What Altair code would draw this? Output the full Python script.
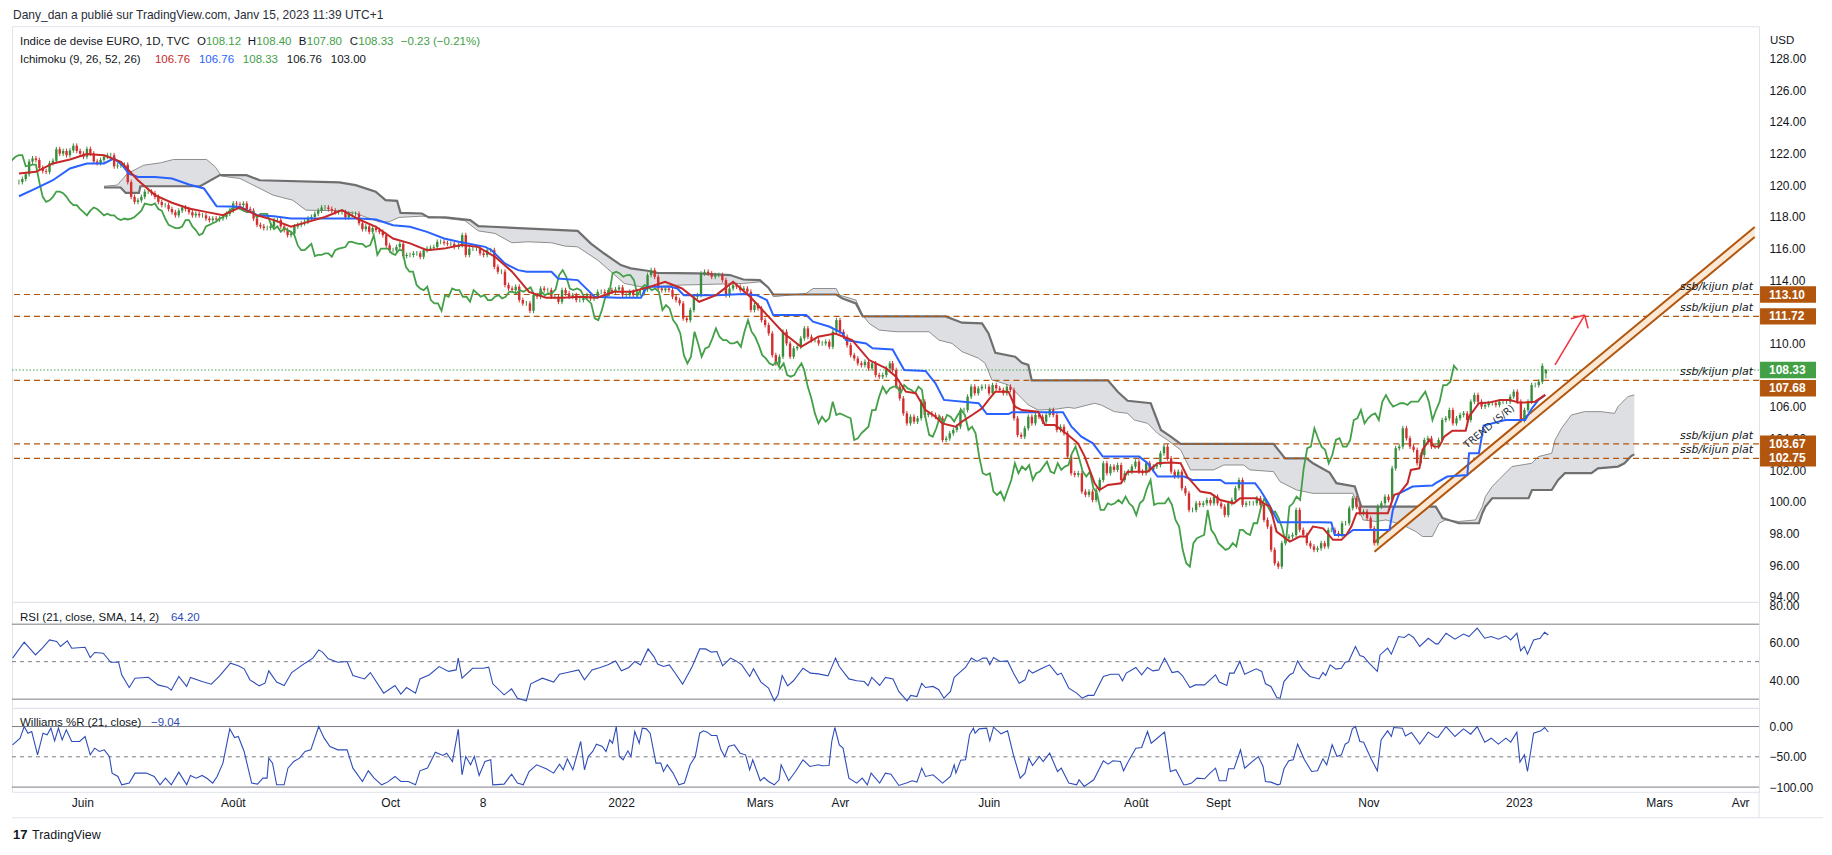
import altair as alt
import numpy as np
import pandas as pd

# ---------------- values ----------------
# daily closes, four stretches of the chart (bar 0 = 1 June 2021)
close_a = [120.2, 120.4, 120.7, 121.5, 121.7, 121.6, 121.1, 120.9, 120.85, 121.4,
           121.55, 122.28, 122.0, 122.17, 121.9, 122.2, 122.5, 122.17, 122.0, 121.8,
           122.3, 122.0, 121.5, 121.4, 121.6, 121.8, 121.9, 121.9, 121.2, 121.25,
           121.3, 121.3, 120.2, 119.27, 118.95, 119.05, 119.27, 119.6, 119.6, 119.5,
           119.27, 118.95, 118.75, 118.75, 118.5, 118.3, 118.1, 118.4, 118.6, 118.5,
           118.3, 118.1, 118.2, 118.1, 118.1, 117.9, 117.8, 117.9, 117.84, 117.9,
           118.0, 118.2, 118.4, 118.85, 118.8, 118.75, 118.85, 118.5, 118.4, 117.9,
           117.5, 117.4, 117.3, 117.3, 117.4, 117.8, 117.8, 117.4, 117.17, 116.85,
           116.95, 117.4, 117.5, 117.6, 117.7, 117.9, 118.0, 118.2, 118.4, 118.6,
           118.6, 118.5, 118.4, 118.3, 118.3, 118.3, 117.97, 118.2, 118.2, 118.2,
           117.6, 117.23, 117.4, 117.06, 117.3, 117.17, 117.06, 116.85, 116.2, 115.9,
           115.9, 116.1, 116.3, 115.53, 115.6, 115.6, 115.7, 115.7, 115.48, 115.9,
           116.0, 116.05, 116.1, 116.43, 116.43, 116.35, 116.3, 116.3, 116.1]
close_b = [116.22, 116.85, 115.6, 116.0, 116.0, 116.0, 115.7, 115.6, 115.9, 115.9,
           114.85, 114.54, 114.54, 113.7, 113.48, 113.38, 113.59, 112.75, 112.54, 112.54,
           112.07, 113.06, 112.96, 113.48, 113.38, 113.38, 112.96, 112.96, 112.64, 113.38,
           113.17, 112.96, 113.06, 112.75, 112.75, 112.96, 113.06, 112.85, 112.96, 113.27,
           113.27, 113.17, 113.38, 113.27, 113.42, 113.55, 113.06, 113.06, 113.27, 113.06,
           113.17, 113.17, 113.42, 114.33, 114.64, 114.22, 113.48, 113.38, 113.48, 113.38,
           112.96, 112.75, 112.54, 111.59, 111.48, 112.12, 112.96, 113.06, 114.43, 114.54,
           114.43, 114.22, 114.33, 114.33, 114.01, 113.06, 113.48, 113.69, 113.59, 113.38,
           113.48, 113.27, 112.12, 112.43, 112.22, 111.48, 111.17, 110.64, 109.27, 108.75,
           109.17, 110.75, 110.01, 109.17, 109.7, 109.8, 110.33, 110.96, 110.43, 110.22,
           110.22, 110.01, 110.01, 110.12, 109.8, 110.75, 111.48, 110.75, 110.43, 109.9,
           109.27, 109.06, 108.75, 108.64, 108.85, 108.43, 108.75, 108.01, 107.91, 108.01,
           108.43, 108.75]
close_c = [108.33, 107.28, 106.54, 105.59, 104.96, 105.38, 105.07, 105.28, 106.33, 105.49,
           105.59, 105.49, 105.38, 105.28, 103.91, 104.01, 104.33, 104.54, 104.75, 105.8,
           105.8, 106.65, 107.28, 106.86, 107.17, 107.28, 107.28, 106.86, 107.38, 107.17,
           107.07, 106.86, 107.28, 107.07, 105.28, 104.23, 104.12, 104.65, 105.38, 104.96,
           105.49, 105.38, 105.07, 105.49, 105.8, 105.49, 104.54, 104.75, 104.33, 102.86,
           101.81, 101.7, 101.81, 100.65, 100.44, 100.65, 100.12, 100.75, 101.38, 102.44,
           101.81, 102.23, 102.02, 102.33, 101.38, 101.81, 101.91, 102.23, 102.54, 101.91,
           101.81, 102.44, 102.02, 102.23, 102.33, 103.07, 103.49, 102.75, 101.91, 101.6,
           101.91, 100.86, 100.54, 99.49, 99.49, 99.91, 99.81, 99.91, 100.12, 99.91,
           100.33, 99.91, 99.7, 99.17, 99.91, 100.12, 100.86, 101.38, 99.81, 99.91,
           99.91, 99.91, 100.23, 99.81, 98.86, 98.44, 96.97, 96.12, 95.91, 97.39,
           97.7, 97.81, 97.91, 99.49, 98.23, 97.91, 97.39, 97.18, 96.97, 97.07,
           97.39, 97.18, 98.23]
close_d = [98.23, 98.02, 97.91, 98.65, 98.65, 99.6, 100.23, 99.7, 99.28, 99.39,
           98.97, 98.33, 97.39, 99.7, 99.91, 100.33, 100.12, 102.12, 103.39, 103.49,
           104.65, 104.02, 103.49, 103.28, 102.44, 102.96, 103.91, 104.02, 103.49, 103.49,
           103.91, 105.17, 105.28, 105.8, 104.96, 105.28, 105.49, 105.59, 105.17, 106.33,
           106.75, 106.33, 106.02, 106.12, 106.23, 106.23, 106.12, 106.33, 106.33, 106.33,
           106.65, 106.96, 106.33, 105.17, 105.8, 106.33, 107.38, 107.38, 107.59, 108.6,
           108.33]
stretch_first_bar = [-20, 109.3, 236.9, 365.9]
stretch_last_bar = [108, 236.1, 365.0, 429]
last_candle = {"O": 108.12, "H": 108.40, "B": 107.80, "C": 108.33, "chg": -0.23, "pct": -0.21}

tenkan_bar = [-20, -15, -10, -5, 0, 5, 10, 15, 20, 25, 30, 35, 40, 45, 50, 55, 60, 65, 70, 75, 80, 85, 90, 95, 100, 105,
              110, 115, 120, 125, 130, 135, 140, 145, 150, 155, 160, 165, 170, 175, 180, 185, 190, 195, 200, 205, 210, 215,
              220, 225, 230, 235,
              237.9, 240.8, 243.7, 246.6, 249.5, 251.5, 255.4, 257.3, 260.3, 263.2, 265.1, 267.1, 271.0, 272.9, 274.9,
              279.7, 281.7, 284.6, 288.5, 291.4, 293.4, 296.3, 297.7, 300.2, 304.1, 306.0, 311.9, 314.8, 318.7, 321.6,
              323.5, 327.4, 330.4, 333.3, 337.2, 339.1, 344.0, 346.0, 347.9, 349.8, 353.7, 356.6, 358.6, 360.5, 363.5,
              366.4, 368.9, 370.3, 371.8, 373.3, 377.1, 382.5, 384.4, 385.9, 388.3, 389.3, 391.8, 392.7, 394.7, 396.1,
              397.6, 399.1, 401.5, 405.4, 406.4, 409.3, 412.2, 415.6, 418.5, 421.0, 422.4, 425.8, 428.8]
tenkan_val = [120.74, 120.85, 121.38, 121.63, 121.97, 121.9, 121.48, 120.32, 119.38, 118.9, 118.53, 118.32, 118.11,
              118.6, 118.11, 117.8, 117.38, 117.69, 118.0, 118.43, 117.84, 117.38, 116.64, 116.33, 115.9, 116.0,
              116.22, 116.11, 115.48, 114.54, 113.27, 112.9, 112.9, 112.96, 112.9, 113.27, 113.27, 113.55, 113.9,
              113.48, 112.64, 113.06, 113.9, 112.96, 111.8, 110.64, 109.8, 110.43, 110.64, 110.22, 108.96, 108.43,
              107.91, 106.96, 106.86, 105.8, 105.38, 104.96, 104.75, 105.07, 105.49, 105.91, 106.44, 106.96, 106.96,
              106.01, 105.8, 105.7, 104.86, 104.86, 104.23, 103.7, 102.86, 101.17, 100.75, 101.07, 101.17, 101.91,
              101.91, 102.44, 102.48, 102.44, 101.6, 100.65, 100.54, 100.12, 99.91, 100.23, 100.23, 99.91, 99.7,
              98.12, 97.49, 97.81, 97.81, 98.44, 98.33,
              97.6, 97.6, 97.91, 98.44, 99.28, 99.28, 99.28, 100.44, 100.54, 101.18, 102.02, 102.12, 103.28, 103.91,
              103.49, 103.49, 104.12, 104.5, 104.5, 105.38, 106.23, 106.27, 106.44, 106.44, 106.27, 106.27, 106.33,
              106.76]

kijun_bar = [-20, -15, -10, -5, 0, 5, 7.9, 10.4, 12.3, 15, 20, 25, 30, 34.4, 38.1, 45, 50, 55, 60, 80, 85, 90, 95,
             100, 105,
             109.3, 117.1, 119.0, 122.9, 126.8, 129.3, 136.6, 138.5, 144.3, 147.3, 149.2, 156.0, 162.9, 163.8, 164.8,
             171.6, 173.6, 175.5, 185.2, 193.0, 196.9, 199.9, 201.8, 211.5, 213.5, 218.4, 222.2, 223.2, 229.1, 231.0,
             236.9,
             240.3, 246.6, 249.5, 252.0, 262.2, 264.6, 271.0, 272.0, 287.0, 289.5, 292.4, 295.8, 298.7, 309.4, 311.9,
             314.8, 315.8, 322.6, 325.0, 333.3, 334.7, 343.5, 345.0, 347.4, 350.3, 362.5,
             365.9, 366.9, 370.3, 372.3, 383.0, 384.0, 385.9, 389.8, 395.6, 396.6, 400.0, 405.9, 406.4, 409.3, 410.7,
             417.1, 422.9, 424.9, 426.8, 428.8]
kijun_val = [119.31, 119.8, 120.32, 121.06, 121.38, 121.38, 121.69, 121.27, 120.74, 120.53, 120.53, 120.43, 120.05,
             119.8, 118.68, 118.64, 118.11, 118.05, 117.9, 117.9, 117.84, 117.48, 117.38, 117.06, 116.64,
             116.43, 116.11, 115.9, 115.06, 114.64, 114.54, 114.54, 114.11, 114.01, 113.38, 112.96, 112.9, 112.9,
             113.27, 113.59, 113.59, 113.48, 113.06, 113.06, 113.13, 113.06, 112.75, 111.8, 111.8, 111.38, 111.06,
             110.64, 110.22, 110.01, 109.7, 109.63,
             108.33, 108.27, 107.49, 106.44, 106.23, 105.55, 105.55, 105.66, 105.66, 104.75, 104.12, 103.7, 102.86,
             102.86, 102.44, 101.6, 101.6, 101.6, 101.38, 101.38, 101.17, 101.17, 100.75, 99.91, 98.71, 98.71,
             98.69, 97.91, 97.91, 98.23, 98.23, 99.49, 100.54, 100.97, 101.03, 101.18, 101.6, 101.7, 103.07, 103.07,
             104.82, 105.17, 105.17, 105.91, 106.44, 106.76]

spana_bar = [5.0, 8.9, 11.9, 16.7, 21.6, 25.5, 35.2, 37.7, 39.6, 45.0, 48.9, 54.7, 60.5, 64.4, 74.2, 79.0, 85.9, 88.8,
             91.7, 98.5, 103.4,
             111.2, 115.1, 120.0, 124.9, 129.7, 136.6, 140.5, 144.3, 150.2, 154.1, 158.0, 163.8, 173.6, 193.0, 197.9,
             200.3, 201.8, 211.5, 213.5, 220.3, 221.3, 226.1, 228.1, 230.0, 233.0,
             237.9, 247.6, 250.5, 254.4, 257.3, 262.2, 264.1, 266.1, 268.0, 271.0, 274.9, 276.8, 279.7, 284.6, 288.5,
             290.4, 296.3, 298.2, 302.1, 306.0, 308.0, 311.9, 314.8, 317.7, 321.6, 324.5, 331.3, 334.3, 340.1, 342.0,
             348.9, 350.8, 355.7, 360.5, 365.4,
             372.3, 373.3, 375.2, 379.1, 382.0, 386.9, 390.8, 392.7, 395.6, 397.6, 399.5, 403.4, 408.3, 410.3, 411.2,
             413.2, 415.1, 419.0, 424.9, 426.8, 430.7, 431.7, 433.6, 436.5, 440.4, 445.3, 449.2, 450.2, 453.1, 455.0]
spana_val = [119.94, 120.01, 120.74, 121.27, 121.42, 121.63, 121.63, 121.17, 120.58, 120.43, 120.01, 119.38, 119.06,
             118.43, 118.39, 118.22, 117.69, 117.69, 117.97, 118.05, 117.97,
             117.76, 117.12, 116.96, 116.37, 116.43, 116.37, 116.16, 116.11, 115.27, 114.54, 113.8, 113.55, 113.69,
             113.8, 113.9, 113.55, 112.96, 113.17, 113.48, 113.48, 113.06, 112.75, 111.8, 111.27, 110.85,
             110.75, 110.75, 110.22, 110.01, 109.49, 109.07, 108.75, 107.7, 107.59, 107.38, 106.54, 106.12, 105.8,
             105.85, 105.97, 105.91, 106.23, 106.12, 105.7, 105.59, 105.17, 104.96, 104.33, 103.91, 103.28, 102.02,
             102.02, 102.33, 102.33, 102.02, 101.91, 101.28, 100.75, 100.54, 100.54,
             100.54, 99.91, 98.86, 98.76, 98.86, 98.54, 98.12, 97.81, 97.81, 98.65, 98.86, 98.76, 98.86, 99.7, 100.33,
             100.97, 101.39, 102.23, 102.44, 102.86, 103.07, 103.91, 104.65, 105.49, 105.7, 105.7, 105.59, 106.02,
             106.65, 106.76]

spanb_bar = [5.0, 9.9, 11.4, 15.3, 15.7, 33.3, 39.1, 46.9, 50.8, 74.2, 79.0, 84.9, 87.8, 91.2, 92.2, 98.5, 100.5, 105.4,
             112.7, 115.1, 119.0, 144.3, 148.2, 152.1, 157.0, 159.9, 164.8, 167.7, 179.4, 189.1, 193.0, 197.9, 200.3,
             201.8, 220.3, 222.2, 226.1, 228.1,
             252.5, 257.3, 263.2, 265.1, 267.1, 272.9, 274.9, 276.8, 277.8, 300.2, 303.1, 306.0, 312.8, 315.8, 318.7,
             321.6, 348.9, 352.3, 358.6, 360.5, 365.4,
             367.4, 372.8, 374.7, 396.6, 398.6, 403.4, 409.3, 410.3, 411.2, 413.2, 423.9, 424.9, 430.7, 432.6, 434.6,
             442.4, 444.3, 450.2, 452.1, 454.1, 455.0]
spanb_val = [119.86, 119.86, 119.52, 119.52, 119.94, 119.94, 120.64, 120.64, 120.32, 120.18, 120.01, 119.59, 119.06,
             119.02, 118.26, 118.22, 117.97, 117.97,
             117.8, 117.42, 117.38, 117.12, 116.32, 115.69, 114.96, 114.75, 114.6, 114.47, 114.43, 114.33, 114.05,
             114.01, 113.55, 113.1, 113.1, 112.85, 112.54, 111.72,
             111.72, 111.32, 111.28, 110.64, 109.42, 109.17, 108.79, 108.65, 107.68, 107.68, 106.96, 106.39, 106.23,
             104.54, 104.12, 103.67, 103.67, 102.75, 102.75, 102.44, 101.85,
             101.18, 100.97, 99.7, 99.7, 98.97, 98.65, 98.65, 99.28, 99.7, 100.23, 100.23, 100.75, 100.75, 101.39,
             101.81, 101.81, 102.12, 102.23, 102.44, 102.9, 103.0]

rsi_pts = [(-20.4, 51.9), (-17.0, 60.4), (-13.7, 53.6), (-11.5, 57.6), (-9.6, 61.6), (-7.5, 60.75), (-6.4, 58.1),
           (-4.4, 61.1), (-3.1, 57.2), (0.8, 57.7), (2.3, 52.2), (3.6, 54.9), (6.1, 54.5), (8.3, 49.7), (10.6, 49.7),
           (11.5, 43.0), (13.7, 36.2), (15.4, 41.2), (19.3, 41.7), (22.1, 37.6), (24.9, 36.4), (26.0, 34.8),
           (28.2, 42.1), (30.5, 36.8), (31.6, 41.6), (35.0, 39.4), (37.7, 38.0), (40.0, 42.1), (43.3, 49.2),
           (45.6, 47.8), (47.3, 46.2), (49.0, 40.3), (51.7, 37.1), (53.4, 38.5), (54.5, 45.1), (56.8, 39.1),
           (59.0, 37.3), (61.2, 44.2), (65.1, 49.2), (67.4, 51.9), (69.1, 56.3), (70.2, 55.1), (71.9, 51.5),
           (74.7, 49.7), (77.4, 50.1), (79.1, 42.6), (82.5, 40.8), (84.2, 44.2), (88.1, 33.2), (91.4, 37.3),
           (93.1, 32.7), (94.8, 36.2), (97.4, 33.2), (98.7, 40.8), (101.5, 43.0), (104.3, 47.4), (107.1, 44.8),
           (109.3, 45.6), (109.9, 51.9), (111.0, 41.2), (114.1, 46.5), (117.2, 46.5), (118.8, 47.1), (120.0, 38.2),
           (123.3, 32.3), (125.5, 35.5), (127.2, 30.5), (129.8, 29.1), (131.1, 38.2), (134.5, 41.2), (137.8, 39.1),
           (139.5, 43.3), (141.8, 44.2), (145.1, 45.6), (146.8, 40.3), (149.0, 45.6), (151.4, 46.9), (153.7, 48.3),
           (155.9, 50.4), (157.6, 45.1), (159.8, 46.9), (161.5, 50.1), (163.2, 48.3), (165.4, 56.8), (167.1, 52.7),
           (168.2, 48.7), (169.9, 47.4), (171.6, 48.3), (173.2, 44.2), (175.5, 38.0), (178.3, 47.4), (180.5, 56.8),
           (182.2, 56.8), (183.9, 55.1), (185.5, 55.4), (187.2, 47.8), (189.5, 51.9), (191.1, 50.4), (192.8, 48.3),
           (195.1, 42.1), (196.2, 46.2), (198.4, 39.1), (200.6, 35.9), (202.3, 29.1), (203.4, 32.3), (204.6, 42.6),
           (206.2, 37.1), (207.9, 39.8), (210.7, 46.5), (212.9, 43.9), (215.2, 43.5), (218.0, 42.4), (220.2, 51.9),
           (221.3, 47.4), (224.1, 40.8), (226.4, 39.8), (228.6, 39.4), (229.7, 37.1), (230.8, 41.6), (233.1, 37.3),
           (234.8, 41.6), (237.0, 40.8), (238.7, 34.1), (241.1, 29.1), (242.2, 32.0), (244.0, 31.4), (245.4, 38.5),
           (246.5, 36.2), (248.7, 36.8), (250.4, 35.0), (251.9, 30.5), (253.8, 34.1), (254.9, 41.6), (256.6, 44.4),
           (258.2, 46.9), (259.9, 51.9), (261.6, 50.1), (263.3, 51.9), (264.4, 51.9), (265.3, 48.3), (266.4, 52.2),
           (268.3, 50.1), (270.5, 50.4), (272.2, 43.9), (273.9, 38.5), (275.6, 40.3), (276.7, 45.6), (277.8, 43.9),
           (280.6, 46.5), (282.8, 48.3), (285.1, 43.0), (286.2, 43.9), (288.4, 35.9), (290.7, 33.2), (292.3, 30.5),
           (294.0, 32.0), (295.7, 32.0), (298.5, 42.1), (300.7, 43.3), (303.0, 43.3), (304.1, 39.8), (305.2, 43.9),
           (308.0, 46.9), (309.7, 43.0), (311.4, 46.9), (313.0, 45.1), (314.7, 45.6), (316.4, 51.9), (318.6, 44.2),
           (320.3, 44.8), (321.6, 42.6), (323.8, 36.2), (325.4, 37.6), (328.1, 37.6), (329.7, 40.3), (331.3, 43.0),
           (332.4, 39.1), (334.6, 37.3), (335.4, 43.9), (336.7, 43.9), (338.4, 50.1), (339.8, 43.3), (343.2, 46.2),
           (344.8, 44.8), (345.9, 38.2), (347.5, 36.8), (349.2, 30.9), (350.2, 30.5), (351.3, 39.4), (353.0, 43.0),
           (354.0, 43.9), (355.3, 50.4), (356.7, 46.2), (358.9, 42.1), (361.6, 40.8), (362.7, 44.2), (363.5, 42.6),
           (364.8, 48.3), (366.5, 46.0), (368.1, 46.5), (369.2, 49.7), (370.2, 50.1), (372.2, 58.1), (373.5, 53.3),
           (374.6, 52.7), (376.2, 49.2), (378.6, 44.8), (379.4, 53.6), (381.6, 57.2), (382.7, 54.0), (384.8, 63.4),
           (386.5, 62.9), (387.8, 64.7), (389.2, 62.9), (391.0, 58.1), (393.5, 62.5), (395.7, 59.5), (396.4, 59.5),
           (398.7, 65.2), (401.3, 62.0), (403.8, 64.7), (405.4, 63.4), (407.8, 67.9), (410.0, 62.5), (411.9, 63.4),
           (414.0, 62.0), (416.2, 63.8), (417.6, 61.6), (419.4, 65.2), (420.5, 55.8), (421.6, 58.1), (422.5, 54.0),
           (424.3, 61.6), (426.2, 62.5), (427.5, 65.7), (428.6, 64.2)]

wr_pts = [(-20.4, -30.2), (-18.2, -19.2), (-17.0, 0), (-15.9, -11), (-14.8, -8.2), (-13.1, -46.7), (-11.5, -11),
          (-10.3, -13.7), (-9.2, -2.7), (-8.1, -23.6), (-7.0, -2.7), (-5.9, -22), (-4.7, -5.5), (-3.1, -24.7),
          (-0.8, -24.7), (0.8, -16.5), (2.3, -46.7), (3.6, -35.7), (5.0, -41.2), (6.4, -38.5), (7.9, -49.5),
          (8.7, -76.9), (10.4, -82.4), (11.5, -96.2), (13.7, -93.4), (15.4, -76.9), (18.7, -76.9), (21.0, -82.4),
          (22.7, -96.2), (24.3, -85.2), (26.0, -96.2), (28.2, -75.3), (30.5, -96.2), (31.6, -80.8), (33.3, -85.2),
          (35.0, -80.8), (36.6, -86.3), (38.1, -93.4), (39.4, -82.4), (41.1, -60.4), (43.1, -3.8), (44.5, -18.1),
          (45.6, -16.5), (47.3, -41.2), (49.5, -93.4), (51.2, -95.1), (52.8, -85.2), (54.0, -85.2), (54.5, -52.2),
          (55.6, -60.4), (56.8, -96.2), (59.0, -96.2), (60.1, -68.7), (61.8, -57.7), (63.5, -52.2), (65.1, -41.2),
          (66.8, -38.5), (69.1, 0), (70.7, -19.2), (72.4, -33), (74.7, -38.5), (77.4, -38.5), (79.1, -68.7),
          (81.9, -90.7), (83.6, -73.1), (85.3, -85.2), (87.5, -96.2), (89.2, -91.8), (91.4, -82.4), (93.1, -90.7),
          (95.3, -90.7), (97.4, -96.2), (98.7, -73.1), (100.9, -68.7), (103.2, -42.3), (105.4, -47.8), (106.5, -44),
          (108.2, -57.7), (109.9, -4.4), (111.0, -79.7), (112.1, -49.5), (113.5, -63.2), (114.6, -49.5),
          (116.0, -80.8), (117.7, -57.7), (119.4, -54.9), (120.0, -96.2), (123.3, -95.1), (125.5, -78.6),
          (127.2, -93.4), (128.9, -96.2), (130.6, -74.2), (132.8, -63.2), (135.6, -69.8), (137.8, -76.9),
          (139.5, -62.1), (140.6, -71.4), (141.8, -53.3), (143.4, -71.4), (145.7, -24.7), (146.8, -71.4),
          (147.9, -49.5), (149.2, -41.2), (150.3, -29.1), (152.0, -33), (153.1, -41.2), (154.2, -22), (155.0, -27.5),
          (156.1, 0), (157.0, -49.5), (158.1, -54.9), (159.5, -40.1), (160.4, -49.5), (161.5, -8.2), (162.8, -27.5),
          (163.7, -2.7), (164.9, -3.8), (166.0, -11), (167.7, -60.4), (169.1, -60.4), (169.9, -74.2), (171.0, -63.2),
          (172.7, -76.9), (174.4, -96.2), (176.0, -93.4), (177.7, -63.2), (179.2, -49.5), (180.5, -11), (181.6, -7.1),
          (182.7, -9.3), (183.9, -14.8), (185.5, -14.8), (186.7, -38.5), (187.8, -49.5), (188.9, -33), (190.6, -30.2),
          (192.3, -44), (193.9, -46.7), (195.1, -71.4), (196.0, -54.9), (198.2, -89.6), (199.3, -84.1),
          (200.6, -90.7), (202.3, -96.2), (203.7, -87.9), (204.3, -63.2), (206.5, -89.6), (208.5, -74.2),
          (210.7, -54.9), (212.7, -65.9), (215.2, -63.2), (216.3, -64.8), (218.3, -64.3), (219.1, -24.7),
          (220.0, -1.6), (221.3, -30.2), (222.4, -35.7), (224.1, -85.2), (226.4, -93.4), (228.0, -85.2),
          (229.5, -96.2), (230.6, -76.9), (233.1, -93.4), (234.8, -76.9), (236.4, -78.6), (238.7, -97.3),
          (240.9, -93.4), (242.6, -89.6), (244.0, -91.8), (245.4, -68.7), (246.5, -82.4), (248.7, -79.7),
          (251.5, -93.4), (253.8, -82.4), (254.9, -63.2), (255.4, -76.9), (256.8, -55.5), (258.2, -54.9),
          (259.4, -13.7), (260.5, -2.7), (261.0, -11), (262.2, -3.8), (264.4, -2.7), (265.3, -23.6), (266.4, -1.1),
          (268.6, -12.1), (270.5, -7.1), (272.2, -46.7), (274.2, -85.2), (275.6, -76.9), (276.7, -52.2),
          (277.8, -64.3), (279.8, -49.5), (280.9, -57.7), (282.8, -44), (285.1, -74.2), (286.2, -68.7),
          (288.4, -93.4), (290.7, -96.2), (291.4, -87.9), (292.9, -98.9), (295.7, -87.9), (298.5, -56.6),
          (299.9, -62.1), (301.3, -56.6), (303.5, -57.7), (304.4, -73.1), (305.8, -57.7), (308.0, -35.7),
          (309.7, -34.6), (311.4, -8.2), (312.5, -27.5), (316.4, -9.3), (318.1, -74.2), (319.7, -71.4),
          (322.0, -96.2), (322.7, -96.2), (324.3, -93.4), (325.9, -85.2), (328.1, -86.3), (329.7, -76.9),
          (331.3, -68.7), (332.4, -89.6), (334.4, -89.6), (335.1, -69.8), (336.7, -69.8), (338.6, -38.5),
          (339.8, -68.7), (343.8, -49.5), (345.2, -65.9), (345.9, -90.7), (347.5, -91.8), (349.5, -96.2),
          (350.2, -95.1), (351.3, -69.8), (352.7, -56.6), (354.0, -54.9), (355.3, -29.1), (357.3, -54.9),
          (359.4, -74.2), (361.1, -73.1), (362.7, -53.3), (363.8, -63.2), (365.4, -30.2), (366.8, -49.5),
          (368.1, -46.7), (369.2, -29.1), (370.2, -25.8), (371.3, -3.8), (372.2, 0), (373.5, -24.7), (374.6, -25.8),
          (376.7, -52.2), (378.6, -73.1), (379.7, -22), (381.6, -7.1), (382.7, -16.5), (383.4, -1.6), (385.9, -2.7),
          (386.8, -15.4), (388.6, -9.9), (391.0, -29.1), (393.5, -9.3), (395.7, -17.6), (396.4, -17.6), (398.7, 0),
          (401.3, -16.5), (403.8, -3.8), (405.9, -12.6), (407.8, 0), (410.0, -25.8), (411.9, -19.2), (414.0, -29.1),
          (416.2, -19.2), (417.6, -25.8), (419.4, -9.3), (420.3, -58.8), (421.6, -46.7), (422.5, -74.2),
          (424.3, -11), (426.4, -7.1), (427.5, -1.6), (428.6, -9.04)]

level_prices = [113.10, 111.72, 107.68, 103.67, 102.75]
level_label = "ssb/kijun plat"
last_price = 108.33
channel_bar = [378.6, 490.4]
channel_upper = [97.45, 117.36]
channel_lower = [96.85, 116.73]
arrow_bar = [431.7, 440.4, 436.3, 440.4, 441.4, 440.4]
arrow_val = [108.65, 111.8, 111.57, 111.8, 110.96, 111.8]
arrow_part = [0, 0, 1, 1, 2, 2]
trend_label = ("TREND (S/R)", 412.3, 104.75)
ichimoku_last = [106.76, 106.76, 108.33, 106.76, 103.00]
rsi_last = 64.20
wr_last = -9.04
month_bar = [0, 44, 90, 117, 157.5, 198, 221.5, 265, 308, 332, 376, 420, 461, 484.7]
month_lbl = ["Juin", "Août", "Oct", "8", "2022", "Mars", "Avr", "Juin", "Août", "Sept", "Nov", "2023", "Mars", "Avr"]

# ---------------- styling ----------------
FONT = "Liberation Sans"
INK = "#131722"
UP, DOWN = "#388e3c", "#d32f2f"
GREEN_TXT = "#43a047"
BROWN = "#b2560e"
BLUE = "#2962ff"
TENKAN = "#c62828"
IND = "#2f4db8"
W = 1748
H_MAIN, H_RSI, H_WR = 576, 106, 84
XS = alt.Scale(domain=[-20.57, 490.2], nice=False, zero=False)
YM = alt.Scale(domain=[93.68, 130.05], nice=False, zero=False)
YR = alt.Scale(domain=[25.36, 81.89], nice=False, zero=False)
YW = alt.Scale(domain=[-107.76, 30.86], nice=False, zero=False)


def yaxis(vals):
    return alt.Axis(orient="right", values=vals, format=".2f", grid=False, ticks=False, domain=False,
                    labelPadding=10, labelFontSize=12, labelColor=INK, labelFont=FONT, title=None,
                    labelOverlap=False, labelFlush=False, labelBound=False)


# 112 and 108 sit fully under the price boxes in the reference
AX_M = yaxis([v for v in range(94, 130, 2) if v not in (108, 112)])
AX_R = yaxis([40, 60, 80])
AX_W = yaxis([-100, -50, 0])
XN = lambda f="bar": alt.X(f + ":Q", scale=XS, axis=None, title=None)
YMf = lambda f: alt.Y(f + ":Q", scale=YM, axis=AX_M, title=None)
DUMMY = pd.DataFrame({"d": [0]})


def txt(s, x, y, color=INK, size=11.5, **kw):
    props = dict(align="left", baseline="middle", font=FONT)
    props.update(kw)
    return alt.Chart(DUMMY).mark_text(text=s, fontSize=size, color=color, **props).encode(
        x=alt.value(x), y=alt.value(y))


# ---------------- tables ----------------
bars, closes = [], []
for s, e, seg in zip(stretch_first_bar, stretch_last_bar, [close_a, close_b, close_c, close_d]):
    bars.extend(np.linspace(s, e, len(seg)))
    closes.extend(seg)
opens = [closes[0]] + closes[:-1]
opens[-1] = last_candle["O"]
candles = pd.DataFrame({"bar": bars, "open": opens, "close": closes})
candles["hi"] = candles[["open", "close"]].max(axis=1) + 0.15
candles["lo"] = candles[["open", "close"]].min(axis=1) - 0.15
candles.loc[candles.index[-1], ["hi", "lo"]] = [last_candle["H"], last_candle["B"]]
chikou = pd.DataFrame({"bar": np.array(bars) - 26, "v": closes})

tenkan = pd.DataFrame({"bar": tenkan_bar, "v": tenkan_val})
kijun = pd.DataFrame({"bar": kijun_bar, "v": kijun_val})
spana = pd.DataFrame({"bar": spana_bar, "v": spana_val})
spanb = pd.DataFrame({"bar": spanb_bar, "v": spanb_val})
grid = np.union1d(spana_bar, spanb_bar)
grid = grid[(grid >= max(spana_bar[0], spanb_bar[0])) & (grid <= min(spana_bar[-1], spanb_bar[-1]))]
cloud = pd.DataFrame({"bar": grid, "a": np.interp(grid, spana_bar, spana_val),
                      "b": np.interp(grid, spanb_bar, spanb_val)})
levels = pd.DataFrame({"p": level_prices})
chan = pd.DataFrame({"bar": channel_bar, "up": channel_upper, "lo": channel_lower})
arrow = pd.DataFrame({"bar": arrow_bar, "v": arrow_val, "part": arrow_part})
rsi = pd.DataFrame(rsi_pts, columns=["bar", "v"])
wr = pd.DataFrame(wr_pts, columns=["bar", "v"])

# ---------------- main price panel ----------------
cloud_fill = alt.Chart(cloud).mark_area(color="#dcdde2", opacity=0.95).encode(x=XN(), y=YMf("a"), y2="b:Q")
spana_line = alt.Chart(spana).mark_line(color="#8e8e8e", strokeWidth=1).encode(x=XN(), y=YMf("v"))
spanb_line = alt.Chart(spanb).mark_line(color="#6f6f6f", strokeWidth=2.2).encode(x=XN(), y=YMf("v"))
level_rules = alt.Chart(levels).mark_rule(color=BROWN, strokeDash=[6, 4], strokeWidth=1.2).encode(y=YMf("p"))
last_rule = alt.Chart(pd.DataFrame({"p": [last_price]})).mark_rule(
    color=GREEN_TXT, strokeDash=[1.5, 2], strokeWidth=1).encode(y=YMf("p"))
chan_fill = alt.Chart(chan).mark_area(color="#fbe8d5", clip=True).encode(x=XN(), y=YMf("up"), y2="lo:Q")
chan_up = alt.Chart(chan).mark_line(color=BROWN, strokeWidth=2, clip=True).encode(x=XN(), y=YMf("up"))
chan_lo = alt.Chart(chan).mark_line(color=BROWN, strokeWidth=2, clip=True).encode(x=XN(), y=YMf("lo"))
candle_color = alt.condition("datum.close >= datum.open", alt.value(UP), alt.value(DOWN))
wicks = alt.Chart(candles).mark_rule(strokeWidth=1).encode(x=XN(), y=YMf("lo"), y2="hi:Q", color=candle_color)
bodies = alt.Chart(candles).mark_bar(size=2.4).encode(x=XN(), y=YMf("open"), y2="close:Q", color=candle_color)
chikou_line = alt.Chart(chikou).mark_line(color=GREEN_TXT, strokeWidth=1.8, clip=True).encode(x=XN(), y=YMf("v"))
kijun_line = alt.Chart(kijun).mark_line(color=BLUE, strokeWidth=2).encode(x=XN(), y=YMf("v"))
tenkan_line = alt.Chart(tenkan).mark_line(color=TENKAN, strokeWidth=2).encode(x=XN(), y=YMf("v"))
arrow_line = alt.Chart(arrow).mark_line(color="#f23645", strokeWidth=1.6).encode(
    x=XN(), y=YMf("v"), detail="part:N")
trend_txt = alt.Chart(pd.DataFrame({"bar": [trend_label[1]], "v": [trend_label[2]], "t": [trend_label[0]]})).mark_text(
    font="DejaVu Sans", fontSize=10, color="#2a2e39", angle=320.5, align="center", baseline="middle").encode(
    x=XN(), y=YMf("v"), text="t:N")
ssb_txt = alt.Chart(levels).mark_text(text=level_label, font="DejaVu Sans", fontStyle="italic", fontSize=11,
                                      color=INK, align="right", baseline="alphabetic", dy=-5).encode(
    x=alt.value(1742), y=YMf("p"))

brown_boxes = pd.DataFrame({"p": [113.10, 111.72, 103.67, 102.75]})


def price_box(df, color, yoff=0):
    box = alt.Chart(df).transform_calculate(t="datum.p + 0.52", b="datum.p - 0.52").mark_rect(
        color=color, yOffset=yoff, y2Offset=yoff).encode(
        x=alt.value(1749), x2=alt.value(1805), y=YMf("t"), y2="b:Q")
    lab = alt.Chart(df).mark_text(color="white", fontWeight="bold", fontSize=12, font=FONT, align="left",
                                  baseline="middle", yOffset=yoff).encode(
        x=alt.value(1758), y=YMf("p"), text=alt.Text("p:Q", format=".2f"))
    return [box, lab]


boxes = (price_box(brown_boxes, BROWN) + price_box(pd.DataFrame({"p": [last_price]}), "#43a047")
         + price_box(pd.DataFrame({"p": [107.68]}), BROWN, 8))

f2 = lambda v: f"{v:.2f}"
neg = lambda v: ("−" if v < 0 else "") + f"{abs(v):.2f}"
legend = [
    txt("Dany_dan a publié sur TradingView.com, Janv 15, 2023 11:39 UTC+1", 1, -11, "#2a2e39", 12),
    txt("Indice de devise EURO, 1D, TVC", 8, 16),
    txt("O", 185, 16), txt(f2(last_candle["O"]), 194, 16, GREEN_TXT),
    txt("H", 236, 16), txt(f2(last_candle["H"]), 244.5, 16, GREEN_TXT),
    txt("B", 287, 16), txt(f2(last_candle["B"]), 295, 16, GREEN_TXT),
    txt("C", 338, 16), txt(f2(last_candle["C"]), 346.5, 16, GREEN_TXT),
    txt(f"{neg(last_candle['chg'])} ({neg(last_candle['pct'])}%)", 389, 16, GREEN_TXT),
    txt("Ichimoku (9, 26, 52, 26)", 8, 33.5),
    txt(f2(ichimoku_last[0]), 143, 33.5, TENKAN), txt(f2(ichimoku_last[1]), 187, 33.5, BLUE),
    txt(f2(ichimoku_last[2]), 231, 33.5, GREEN_TXT), txt(f2(ichimoku_last[3]), 275, 33.5),
    txt(f2(ichimoku_last[4]), 319, 33.5),
    txt("USD", 1759, 15, INK, 11.5),
]

main = alt.layer(cloud_fill, spana_line, spanb_line, level_rules, last_rule, chan_fill, chan_up, chan_lo,
                 wicks, bodies, chikou_line, kijun_line, tenkan_line, arrow_line, trend_txt, ssb_txt,
                 *boxes, *legend).properties(width=W, height=H_MAIN)

# ---------------- RSI panel ----------------
YRf = lambda f: alt.Y(f + ":Q", scale=YR, axis=AX_R, title=None)
rsi_bands = alt.Chart(pd.DataFrame({"p": [70, 30]})).mark_rule(color="#787b86", strokeWidth=1).encode(y=YRf("p"))
rsi_mid = alt.Chart(pd.DataFrame({"p": [50]})).mark_rule(color="#787b86", strokeDash=[4, 4]).encode(y=YRf("p"))
rsi_line = alt.Chart(rsi).mark_line(color=IND, strokeWidth=1.1).encode(x=XN(), y=YRf("v"))
rsi_panel = alt.layer(rsi_bands, rsi_mid, rsi_line,
                      txt("RSI (21, close, SMA, 14, 2)", 8, 16), txt(f2(rsi_last), 159, 16, IND)
                      ).properties(width=W, height=H_RSI)

# ---------------- Williams %R panel ----------------
label_expr = ("[" + ",".join(f"'{m}'" for m in month_lbl) + "][indexof([" +
              ",".join(str(b) for b in month_bar) + "], datum.value)]")
AX_X = alt.Axis(values=month_bar, labelExpr=label_expr, grid=False, ticks=False, domain=False, labelPadding=6,
                labelFontSize=12, labelColor=INK, labelFont=FONT, title=None, labelOverlap=False,
                labelFlush=False, labelBound=False)
XB = lambda: alt.X("bar:Q", scale=XS, axis=AX_X, title=None)
YWf = lambda f: alt.Y(f + ":Q", scale=YW, axis=AX_W, title=None)
wr_bands = alt.Chart(pd.DataFrame({"p": [0, -100]})).mark_rule(color="#787b86", strokeWidth=1).encode(y=YWf("p"))
wr_mid = alt.Chart(pd.DataFrame({"p": [-50]})).mark_rule(color="#787b86", strokeDash=[4, 4]).encode(y=YWf("p"))
wr_line = alt.Chart(wr).mark_line(color=IND, strokeWidth=1.1).encode(x=XB(), y=YWf("v"))
frame_bottom = alt.Chart(DUMMY).mark_rule(color="#e0e3eb").encode(
    x=alt.value(0), x2=alt.value(1812), y=alt.value(110))
frame_sep = alt.Chart(DUMMY).mark_rule(color="#e0e3eb").encode(
    x=alt.value(W), y=alt.value(H_WR), y2=alt.value(110))
wr_panel = alt.layer(wr_bands, wr_mid, wr_line, frame_bottom, frame_sep,
                     txt("Williams %R (21, close)", 8, 15), txt(neg(wr_last), 139, 15, IND),
                     txt("17", 1, 127, "#131722", 13, fontWeight="bold"),
                     txt("TradingView", 20, 127, "#131722", 12.5)
                     ).properties(width=W, height=H_WR)

chart = alt.vconcat(main, rsi_panel, wr_panel, spacing=0, bounds="flush").properties(
    padding={"left": 1, "top": 0, "right": 0, "bottom": 0}
).configure(font=FONT).configure_view(stroke="#e0e3eb", strokeWidth=1)

chart.save("out.html", embed_options={"renderer": "svg", "actions": False})
